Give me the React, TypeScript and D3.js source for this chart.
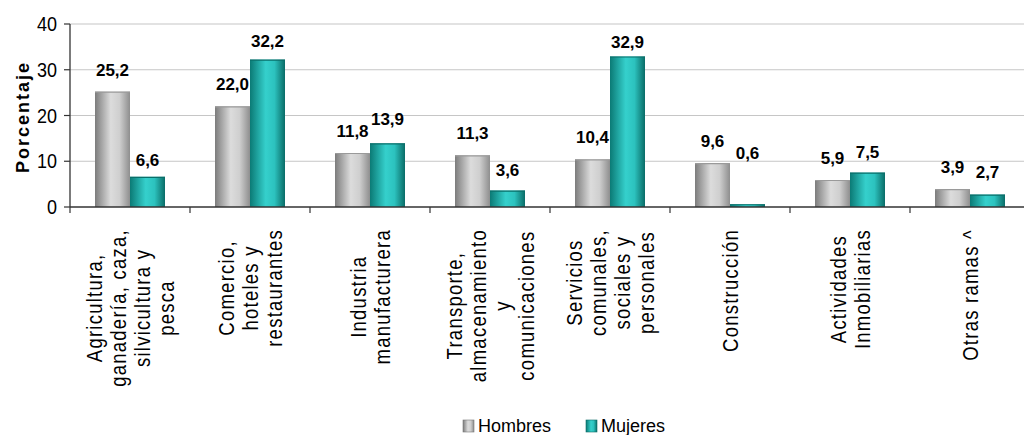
import React from "react";
import * as d3 from "d3";

const categories: string[][] = [
  ["Agricultura,", "ganadería, caza,", "silvicultura y", "pesca"],
  ["Comercio,", "hoteles y", "restaurantes"],
  ["Industria", "manufacturera"],
  ["Transporte,", "almacenamiento", "y", "comunicaciones"],
  ["Servicios", "comunales,", "sociales y", "personales"],
  ["Construcción"],
  ["Actividades", "Inmobiliarias"],
  ["Otras ramas ^"],
];
const hombres = [25.2, 22.0, 11.8, 11.3, 10.4, 9.6, 5.9, 3.9];
const mujeres = [6.6, 32.2, 13.9, 3.6, 32.9, 0.6, 7.5, 2.7];
const seriesNames = ["Hombres", "Mujeres"];
const yTicks = [0, 10, 20, 30, 40];
// per-label vertical nudges (px) to mimic the original label placement
const mujeresLabelNudge = [5, 3, -2, 1, 8, -29, 1, -1];

const W = 1024;
const H = 435;
const left = 70;
const top = 24;
const bottom = 207;
const groupW = 120;
const catFont = 22;
const catSpacing = 1.5;
const catScale = 0.84;

let measureCtx: CanvasRenderingContext2D | null = null;
function textWidth(s: string): number {
  if (!measureCtx) {
    const c = document.createElement("canvas");
    measureCtx = c.getContext("2d");
  }
  if (!measureCtx) return s.length * catFont * 0.5;
  measureCtx.font = `${catFont}px 'Liberation Sans', Arial, sans-serif`;
  const w = measureCtx.measureText(s).width + catSpacing * s.length;
  return w * catScale;
}

export default function App() {
  const keys = categories.map((c) => c.join(" "));
  const x = d3
    .scaleBand<string>()
    .domain(keys)
    .range([left, left + groupW * keys.length])
    .padding(0);
  const xi = d3.scaleBand<string>().domain(seriesNames).range([25, 95]).padding(0);
  const y = d3.scaleLinear().domain([0, 40]).range([bottom, top]);
  const fmt = (v: number) => v.toFixed(1).replace(".", ",");
  const series = [hombres, mujeres];
  const fills = ["url(#gGray)", "url(#gTeal)"];
  const tops = ["#9a9a9a", "#0a6f6a"];

  return (
    <svg
      width={W}
      height={H}
      style={{ position: "absolute", left: 0, top: 0, background: "#fff" }}
      fontFamily="'Liberation Sans', Arial, sans-serif"
    >
      <defs>
        <linearGradient id="gGray" x1="0" x2="1" y1="0" y2="0">
          <stop offset="0" stopColor="#7c7c7c" />
          <stop offset="0.45" stopColor="#dcdcdc" />
          <stop offset="0.7" stopColor="#cfcfcf" />
          <stop offset="1" stopColor="#8e8e8e" />
        </linearGradient>
        <linearGradient id="gTeal" x1="0" x2="1" y1="0" y2="0">
          <stop offset="0" stopColor="#0b7a75" />
          <stop offset="0.45" stopColor="#35d0cc" />
          <stop offset="0.7" stopColor="#2cc2be" />
          <stop offset="1" stopColor="#0a6c67" />
        </linearGradient>
      </defs>

      {yTicks
        .filter((t) => t > 0)
        .map((t) => (
          <line key={t} x1={left} x2={W} y1={y(t)} y2={y(t)} stroke="#c6c6c6" strokeWidth={1.2} />
        ))}

      {keys.map((k, i) => (
        <g key={k}>
          {series.map((s, j) => {
            const bx = (x(k) as number) + (xi(seriesNames[j]) as number);
            const bw = xi.bandwidth();
            const by = y(s[i]);
            return (
              <g key={j}>
                <rect x={bx} y={by} width={bw} height={bottom - by} fill={fills[j]} />
                <line x1={bx} x2={bx + bw} y1={by + 0.5} y2={by + 0.5} stroke={tops[j]} strokeWidth={1.2} />
              </g>
            );
          })}
        </g>
      ))}

      {keys.map((k, i) =>
        series.map((s, j) => {
          const cx = (x(k) as number) + (xi(seriesNames[j]) as number) + xi.bandwidth() / 2;
          const by = y(s[i]) - 16 + (j === 1 ? mujeresLabelNudge[i] : 0);
          return (
            <text key={k + j} x={cx} y={by} textAnchor="middle" fontSize={17} fontWeight="bold" fill="#000">
              {fmt(s[i])}
            </text>
          );
        })
      )}

      <line x1={left} x2={left} y1={top} y2={bottom} stroke="#333" strokeWidth={1.3} />
      {yTicks.map((t) => (
        <g key={t}>
          <line x1={left - 6} x2={left} y1={y(t)} y2={y(t)} stroke="#333" strokeWidth={1.2} />
          <text
            x={57}
            y={y(t)}
            dy="0.36em"
            textAnchor="end"
            fontSize={20}
            transform={`translate(57 0) scale(0.9 1) translate(-57 0)`}
            fill="#000"
          >
            {t}
          </text>
        </g>
      ))}

      <line x1={left} x2={W} y1={bottom} y2={bottom} stroke="#333" strokeWidth={1.3} />
      {keys.map((k) => (
        <line
          key={k}
          x1={x(k) as number}
          x2={x(k) as number}
          y1={bottom}
          y2={bottom + 6}
          stroke="#333"
          strokeWidth={1.2}
        />
      ))}

      {categories.map((lines, i) => {
        const cx = (x(keys[i]) as number) + x.bandwidth() / 2;
        const n = lines.length;
        const lh = 24;
        const maxW = Math.max(...lines.map((l) => textWidth(l)));
        const cy = 229 + maxW / 2;
        return (
          <g key={i}>
            {lines.map((l, li) => {
              const lx = cx + (li - (n - 1) / 2) * lh + 8;
              return (
                <text
                  key={li}
                  transform={`translate(${lx} ${cy}) rotate(-90) scale(${catScale} 1)`}
                  x={0}
                  y={0}
                  textAnchor="middle"
                  fontSize={catFont}
                  letterSpacing={catSpacing}
                  fill="#000"
                >
                  {l}
                </text>
              );
            })}
          </g>
        );
      })}

      <text
        transform="translate(29 117) rotate(-90)"
        textAnchor="middle"
        fontSize={18}
        fontWeight="bold"
        letterSpacing={2}
        fill="#000"
      >
        Porcentaje
      </text>

      <rect x={463} y={420} width={11} height={12} fill="url(#gGray)" stroke="#777" strokeWidth={0.6} />
      <text x={478} y={432} fontSize={18} fill="#000">
        Hombres
      </text>
      <rect x={586} y={420} width={11} height={12} fill="url(#gTeal)" stroke="#0a6c67" strokeWidth={0.6} />
      <text x={601} y={432} fontSize={18} fill="#000">
        Mujeres
      </text>
    </svg>
  );
}
